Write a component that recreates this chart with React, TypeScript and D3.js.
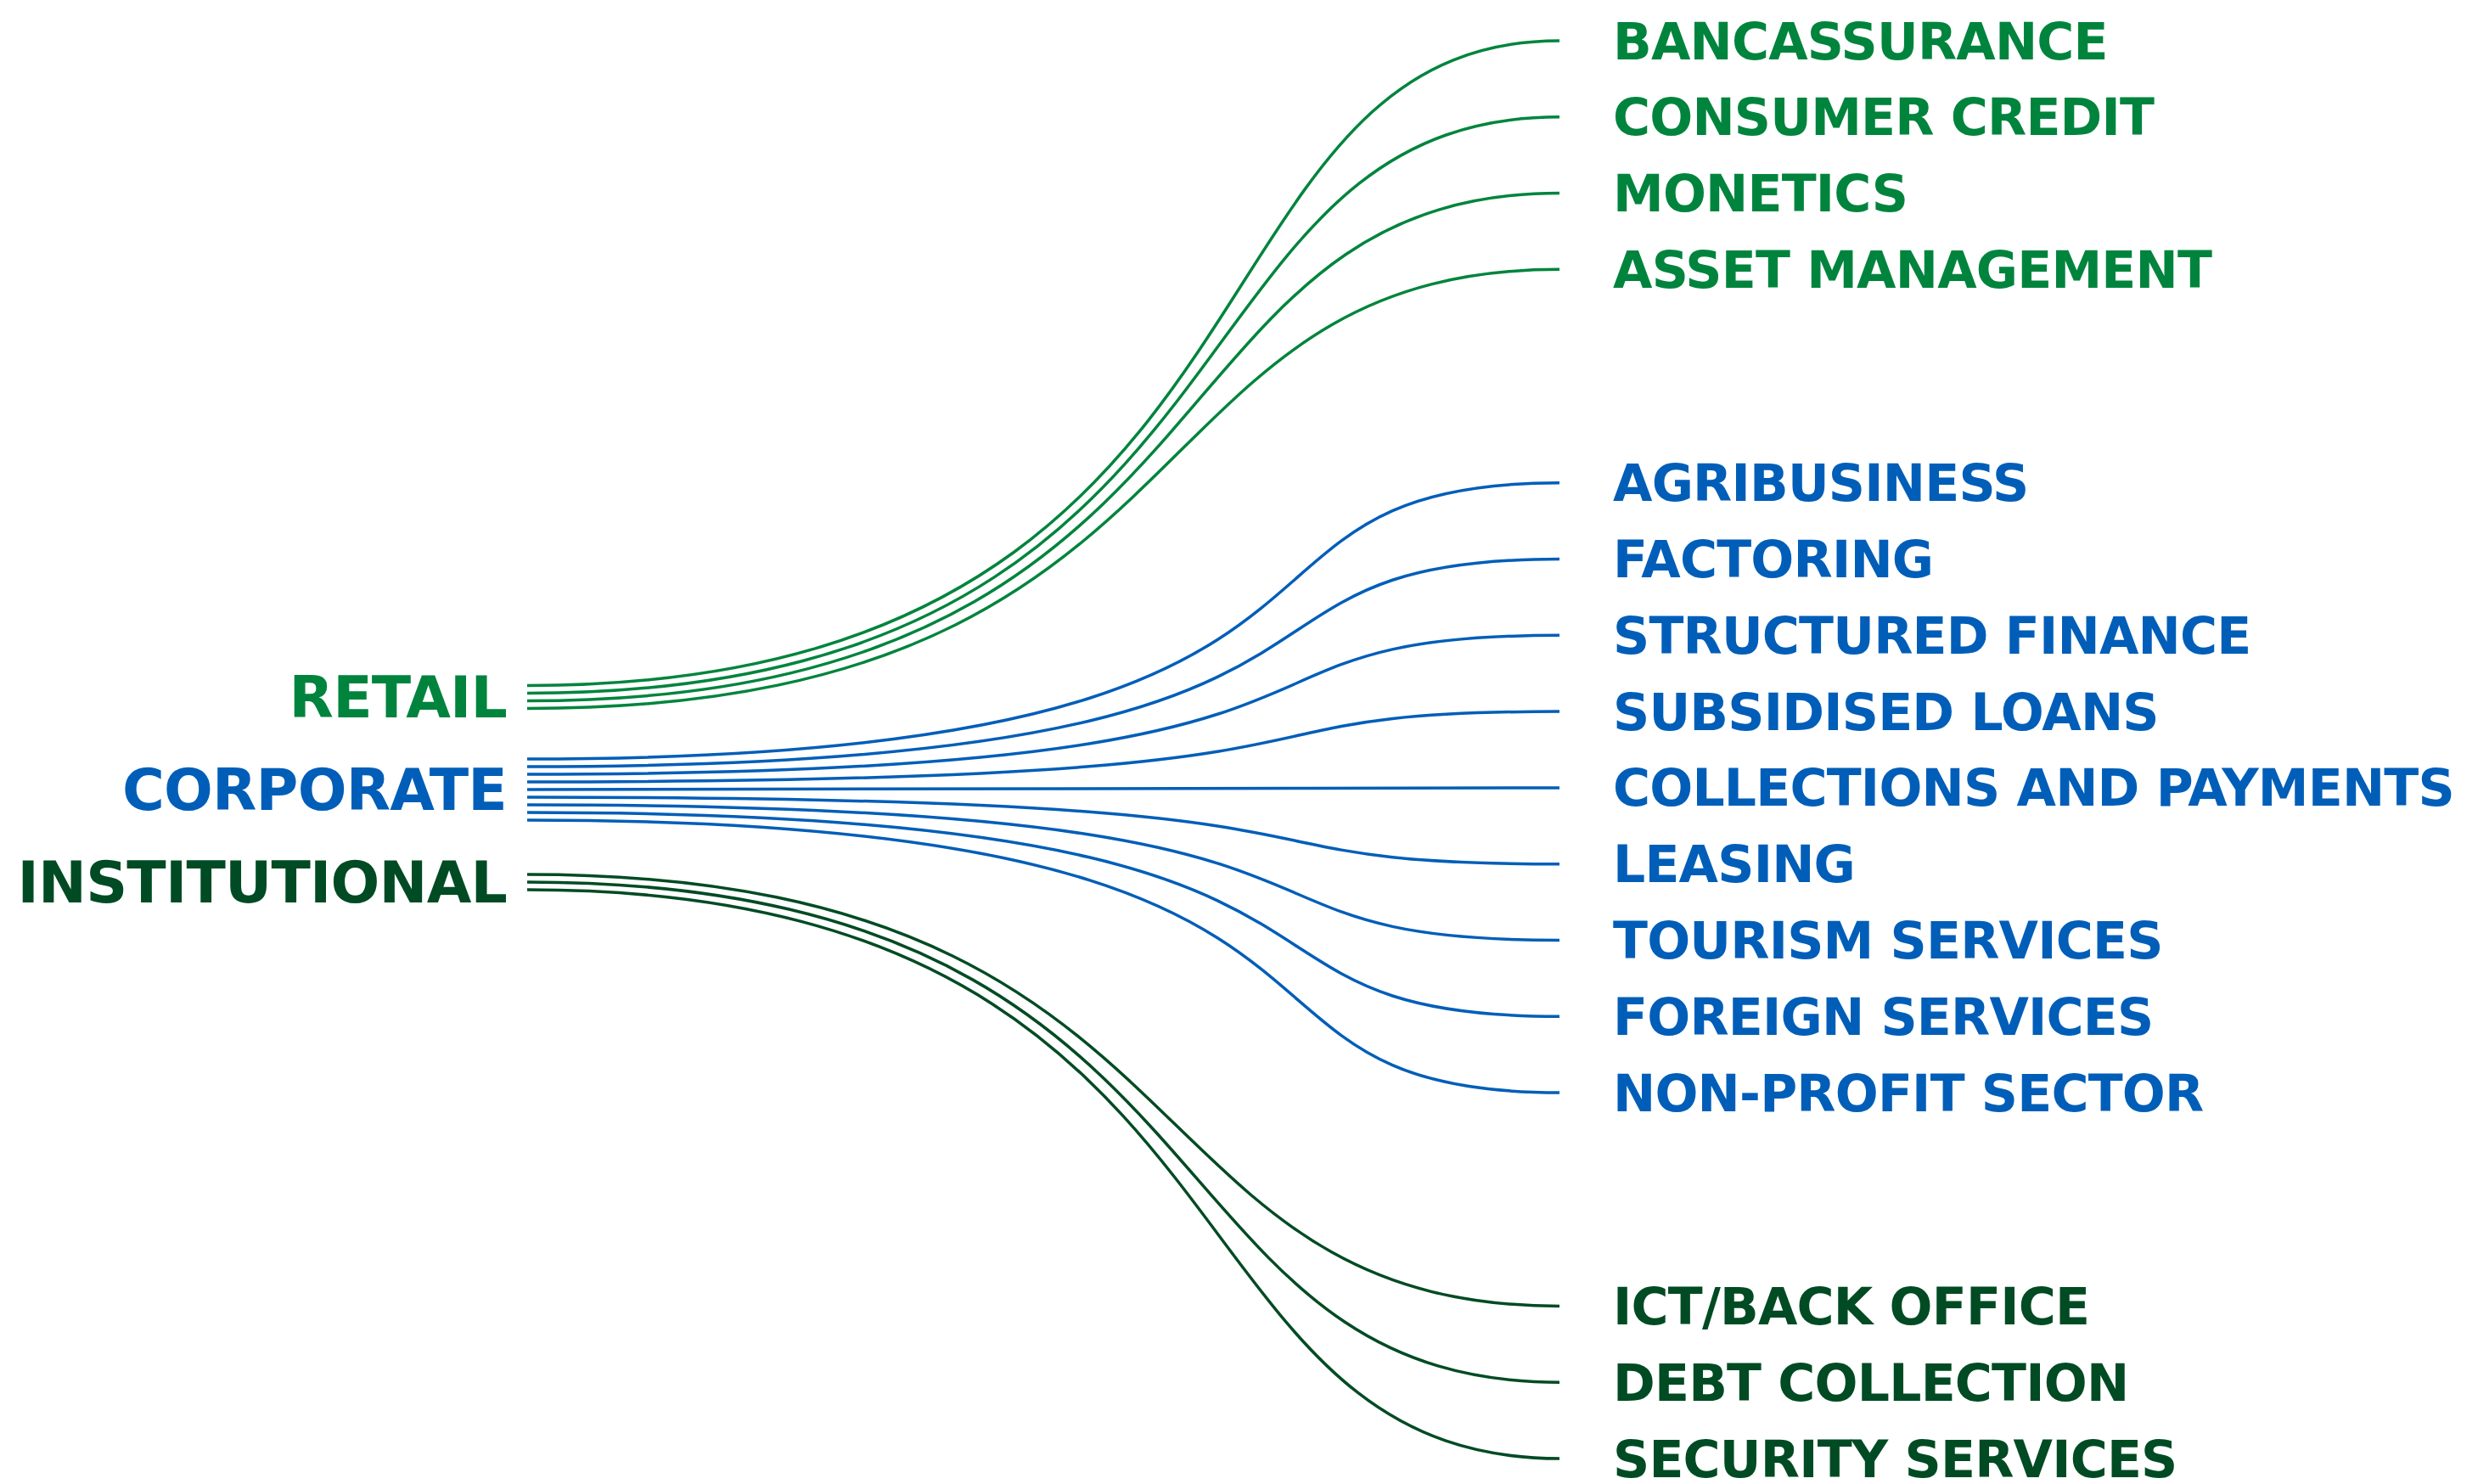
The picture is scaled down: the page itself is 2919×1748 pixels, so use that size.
import React from "react";
import * as d3 from "d3";

// Business lines and the services attached to each one
const groups = ["RETAIL", "CORPORATE", "INSTITUTIONAL"];
const retailServices = ["BANCASSURANCE", "CONSUMER CREDIT", "MONETICS", "ASSET MANAGEMENT"];
const corporateServices = [
  "AGRIBUSINESS",
  "FACTORING",
  "STRUCTURED FINANCE",
  "SUBSIDISED LOANS",
  "COLLECTIONS AND PAYMENTS",
  "LEASING",
  "TOURISM SERVICES",
  "FOREIGN SERVICES",
  "NON-PROFIT SECTOR",
];
const institutionalServices = ["ICT/BACK OFFICE", "DEBT COLLECTION", "SECURITY SERVICES"];
const groupColors = ["#00843d", "#005eb8", "#004b23"];

const WIDTH = 2919;
const HEIGHT = 1748;

export default function App() {
  const services = [retailServices, corporateServices, institutionalServices];

  // row positions on the right, with an extra gap between groups
  const groupGap = 1.8;
  const links: { group: number; index: number; name: string; row: number }[] = [];
  let row = 0;
  services.forEach((list, gi) => {
    list.forEach((name, j) => {
      links.push({ group: gi, index: j, name, row });
      row += 1;
    });
    row += groupGap;
  });
  const maxRow = row - groupGap - 1;

  const x = d3.scaleLinear().domain([0, 1]).range([621, 1837]);
  const yRight = d3.scaleLinear().domain([0, maxRow]).range([48, 1718]);
  const ySource = d3.scalePoint<string>().domain(groups).range([821, 1039]);
  const strandGap = 9;

  // where the control points sit along the run: the long outer strands
  // stay low for longer and climb later than the short ones
  const bend = (group: number, dy: number) => {
    if (group === 1) return [0.9, 0.38];
    const k = (Math.abs(dy) - 511) / 249;
    return [0.68 + 0.08 * k, 0.43 - 0.05 * k];
  };

  const linkPath = (d: (typeof links)[number]) => {
    const n = services[d.group].length;
    const y0 = (ySource(groups[d.group]) as number) + (d.index - (n - 1) / 2) * strandGap;
    const y1 = yRight(d.row);
    const [a, b] = bend(d.group, y1 - y0);
    const p = d3.path();
    p.moveTo(x(0), y0);
    p.bezierCurveTo(x(a), y0, x(1 - b), y1, x(1), y1);
    return p.toString();
  };

  return (
    <svg
      width={WIDTH}
      height={HEIGHT}
      style={{ position: "absolute", left: 0, top: 0, display: "block", background: "#fff" }}
      fontFamily="'DejaVu Sans', sans-serif"
      fontWeight="bold"
    >
      <g fill="none" strokeWidth={3.5} strokeLinecap="butt">
        {links.map((d) => (
          <path key={d.name} d={linkPath(d)} stroke={groupColors[d.group]} />
        ))}
      </g>
      <g fontSize={60} letterSpacing={-0.8}>
        {links.map((d) => (
          <text key={d.name} x={x(1) + 63} y={yRight(d.row)} dy="0.36em" fill={groupColors[d.group]}>
            {d.name}
          </text>
        ))}
      </g>
      <g fontSize={68} letterSpacing={-0.8} textAnchor="end">
        {groups.map((g, gi) => (
          <text key={g} x={x(0) - 24} y={ySource(g)} dy="0.36em" fill={groupColors[gi]}>
            {g}
          </text>
        ))}
      </g>
    </svg>
  );
}
